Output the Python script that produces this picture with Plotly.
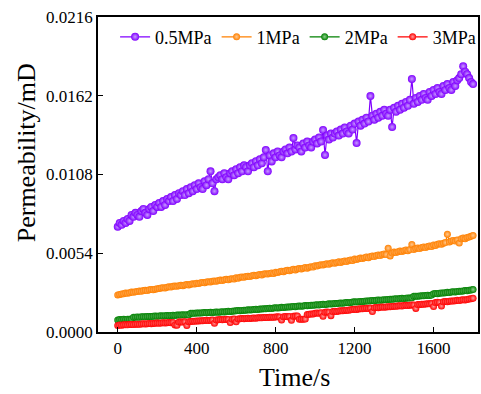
import plotly.graph_objects as go

time_s = list(range(0, 1810, 10))

p05 = [
    0.00722, 0.00748, 0.00735, 0.00762, 0.00748, 0.00775, 0.00762, 0.00803, 0.00790, 0.00817,
    0.00803, 0.00790, 0.00830, 0.00844, 0.00817, 0.00803, 0.00844, 0.00858, 0.00830, 0.00871,
    0.00858, 0.00885, 0.00858, 0.00898, 0.00871, 0.00912, 0.00898, 0.00925, 0.00898, 0.00939,
    0.00912, 0.00952, 0.00939, 0.00966, 0.00939, 0.00980, 0.00952, 0.00993, 0.00966, 0.01007,
    0.00980, 0.01020, 0.00993, 0.00980, 0.01034, 0.01007, 0.01048, 0.01102, 0.01020, 0.00966,
    0.01048, 0.01061, 0.01075, 0.01048, 0.01089, 0.01061, 0.01048, 0.01089, 0.01102, 0.01075,
    0.01116, 0.01089, 0.01130, 0.01102, 0.01143, 0.01130, 0.01102, 0.01143, 0.01157, 0.01130,
    0.01171, 0.01143, 0.01184, 0.01157, 0.01198, 0.01248, 0.01102, 0.01211, 0.01170, 0.01225,
    0.01198, 0.01238, 0.01211, 0.01198, 0.01238, 0.01252, 0.01225, 0.01265, 0.01238, 0.01330,
    0.01252, 0.01279, 0.01265, 0.01238, 0.01293, 0.01265, 0.01306, 0.01279, 0.01265, 0.01306,
    0.01320, 0.01293, 0.01334, 0.01306, 0.01385, 0.01214, 0.01347, 0.01320, 0.01361, 0.01334,
    0.01361, 0.01375, 0.01347, 0.01388, 0.01361, 0.01402, 0.01375, 0.01361, 0.01415, 0.01388,
    0.01429, 0.01296, 0.01443, 0.01415, 0.01456, 0.01429, 0.01470, 0.01443, 0.01618, 0.01483,
    0.01456, 0.01497, 0.01470, 0.01510, 0.01483, 0.01524, 0.01497, 0.01483, 0.01524, 0.01406,
    0.01538, 0.01510, 0.01551, 0.01524, 0.01565, 0.01538, 0.01578, 0.01551, 0.01592, 0.01735,
    0.01565, 0.01605, 0.01578, 0.01619, 0.01592, 0.01632, 0.01605, 0.01592, 0.01646, 0.01619,
    0.01660, 0.01632, 0.01673, 0.01646, 0.01632, 0.01687, 0.01660, 0.01700, 0.01673, 0.01660,
    0.01714, 0.01687, 0.01727, 0.01741, 0.01768, 0.01822, 0.01785, 0.01768, 0.01741, 0.01714,
    0.01700,
]

p1 = [
    0.00254, 0.00258, 0.00261, 0.00263, 0.00267, 0.00265, 0.00270, 0.00274, 0.00272, 0.00276,
    0.00278, 0.00281, 0.00279, 0.00284, 0.00286, 0.00284, 0.00289, 0.00292, 0.00290, 0.00294,
    0.00297, 0.00299, 0.00302, 0.00304, 0.00302, 0.00307, 0.00310, 0.00308, 0.00313, 0.00315,
    0.00313, 0.00318, 0.00320, 0.00318, 0.00323, 0.00325, 0.00323, 0.00328, 0.00331, 0.00329,
    0.00335, 0.00333, 0.00338, 0.00340, 0.00338, 0.00343, 0.00345, 0.00343, 0.00348, 0.00350,
    0.00348, 0.00353, 0.00356, 0.00353, 0.00358, 0.00361, 0.00358, 0.00363, 0.00366, 0.00364,
    0.00372, 0.00369, 0.00375, 0.00378, 0.00375, 0.00380, 0.00383, 0.00380, 0.00386, 0.00389,
    0.00386, 0.00391, 0.00394, 0.00391, 0.00397, 0.00400, 0.00397, 0.00402, 0.00405, 0.00402,
    0.00410, 0.00408, 0.00414, 0.00417, 0.00414, 0.00420, 0.00423, 0.00420, 0.00426, 0.00430,
    0.00426, 0.00432, 0.00435, 0.00432, 0.00438, 0.00442, 0.00438, 0.00444, 0.00448, 0.00445,
    0.00455, 0.00452, 0.00458, 0.00462, 0.00459, 0.00465, 0.00468, 0.00464, 0.00471, 0.00475,
    0.00471, 0.00477, 0.00481, 0.00477, 0.00483, 0.00487, 0.00483, 0.00490, 0.00494, 0.00491,
    0.00500, 0.00497, 0.00503, 0.00507, 0.00504, 0.00510, 0.00514, 0.00510, 0.00517, 0.00521,
    0.00517, 0.00524, 0.00528, 0.00524, 0.00531, 0.00535, 0.00531, 0.00575, 0.00522, 0.00542,
    0.00548, 0.00545, 0.00551, 0.00555, 0.00552, 0.00558, 0.00562, 0.00558, 0.00565, 0.00600,
    0.00565, 0.00572, 0.00576, 0.00572, 0.00579, 0.00583, 0.00579, 0.00586, 0.00590, 0.00587,
    0.00597, 0.00594, 0.00601, 0.00605, 0.00602, 0.00609, 0.00613, 0.00670, 0.00617, 0.00624,
    0.00628, 0.00624, 0.00631, 0.00610, 0.00640, 0.00644, 0.00640, 0.00648, 0.00652, 0.00656,
    0.00662,
]

p2 = [
    0.00082, 0.00085, 0.00084, 0.00087, 0.00086, 0.00088, 0.00087, 0.00089, 0.00101, 0.00102,
    0.00103, 0.00102, 0.00104, 0.00105, 0.00104, 0.00106, 0.00107, 0.00106, 0.00108, 0.00109,
    0.00108, 0.00110, 0.00111, 0.00110, 0.00112, 0.00113, 0.00112, 0.00114, 0.00115, 0.00114,
    0.00116, 0.00117, 0.00116, 0.00118, 0.00117, 0.00119, 0.00118, 0.00128, 0.00129, 0.00128,
    0.00130, 0.00131, 0.00130, 0.00132, 0.00133, 0.00132, 0.00134, 0.00135, 0.00134, 0.00136,
    0.00137, 0.00136, 0.00138, 0.00139, 0.00138, 0.00140, 0.00142, 0.00141, 0.00143, 0.00144,
    0.00145, 0.00147, 0.00146, 0.00148, 0.00149, 0.00150, 0.00152, 0.00151, 0.00153, 0.00154,
    0.00156, 0.00155, 0.00157, 0.00158, 0.00160, 0.00159, 0.00161, 0.00163, 0.00162, 0.00164,
    0.00166, 0.00165, 0.00167, 0.00169, 0.00168, 0.00170, 0.00172, 0.00171, 0.00173, 0.00175,
    0.00174, 0.00176, 0.00178, 0.00177, 0.00179, 0.00181, 0.00180, 0.00182, 0.00184, 0.00183,
    0.00185, 0.00187, 0.00186, 0.00188, 0.00190, 0.00189, 0.00191, 0.00193, 0.00192, 0.00194,
    0.00196, 0.00195, 0.00197, 0.00199, 0.00198, 0.00200, 0.00202, 0.00201, 0.00203, 0.00205,
    0.00207, 0.00206, 0.00208, 0.00210, 0.00209, 0.00211, 0.00213, 0.00212, 0.00214, 0.00216,
    0.00215, 0.00217, 0.00219, 0.00218, 0.00220, 0.00222, 0.00221, 0.00223, 0.00225, 0.00224,
    0.00226, 0.00228, 0.00227, 0.00229, 0.00231, 0.00230, 0.00232, 0.00234, 0.00233, 0.00235,
    0.00245, 0.00246, 0.00245, 0.00247, 0.00249, 0.00248, 0.00250, 0.00252, 0.00251, 0.00253,
    0.00262, 0.00264, 0.00263, 0.00266, 0.00268, 0.00267, 0.00270, 0.00272, 0.00271, 0.00274,
    0.00276, 0.00275, 0.00278, 0.00280, 0.00279, 0.00282, 0.00284, 0.00283, 0.00286, 0.00288,
    0.00291,
]

p3 = [
    0.00045, 0.00048, 0.00047, 0.00049, 0.00050, 0.00049, 0.00051, 0.00052, 0.00051, 0.00053,
    0.00054, 0.00053, 0.00055, 0.00056, 0.00055, 0.00057, 0.00058, 0.00057, 0.00059, 0.00060,
    0.00061, 0.00060, 0.00062, 0.00063, 0.00062, 0.00064, 0.00065, 0.00064, 0.00066, 0.00048,
    0.00047, 0.00068, 0.00069, 0.00068, 0.00070, 0.00045, 0.00071, 0.00072, 0.00074, 0.00073,
    0.00075, 0.00076, 0.00078, 0.00077, 0.00079, 0.00080, 0.00079, 0.00081, 0.00082, 0.00060,
    0.00083, 0.00084, 0.00085, 0.00084, 0.00086, 0.00087, 0.00086, 0.00065, 0.00088, 0.00089,
    0.00070, 0.00090, 0.00091, 0.00092, 0.00091, 0.00093, 0.00094, 0.00093, 0.00095, 0.00096,
    0.00095, 0.00097, 0.00098, 0.00097, 0.00099, 0.00100, 0.00099, 0.00101, 0.00102, 0.00101,
    0.00103, 0.00104, 0.00103, 0.00082, 0.00105, 0.00106, 0.00105, 0.00107, 0.00080, 0.00108,
    0.00109, 0.00110, 0.00088, 0.00087, 0.00088, 0.00089, 0.00120, 0.00122, 0.00123, 0.00124,
    0.00128, 0.00130, 0.00129, 0.00132, 0.00108, 0.00135, 0.00137, 0.00136, 0.00112, 0.00140,
    0.00142, 0.00141, 0.00144, 0.00146, 0.00145, 0.00148, 0.00150, 0.00149, 0.00152, 0.00154,
    0.00156, 0.00155, 0.00158, 0.00160, 0.00159, 0.00161, 0.00163, 0.00162, 0.00164, 0.00140,
    0.00166, 0.00168, 0.00167, 0.00169, 0.00171, 0.00170, 0.00172, 0.00174, 0.00173, 0.00175,
    0.00177, 0.00176, 0.00178, 0.00180, 0.00179, 0.00181, 0.00183, 0.00182, 0.00184, 0.00186,
    0.00185, 0.00162, 0.00188, 0.00189, 0.00191, 0.00190, 0.00192, 0.00194, 0.00193, 0.00195,
    0.00175, 0.00202, 0.00204, 0.00203, 0.00178, 0.00207, 0.00209, 0.00208, 0.00211, 0.00213,
    0.00212, 0.00215, 0.00217, 0.00216, 0.00219, 0.00221, 0.00220, 0.00223, 0.00226, 0.00228,
    0.00232,
]

series_names = ["0.5MPa", "1MPa", "2MPa", "3MPa"]
series_values = [p05, p1, p2, p3]
series_colors = ["#8000ff", "#ff8000", "#008000", "#ff0000"]
highlight_colors = ["#c89cff", "#ffc890", "#8fd08f", "#ff9c9c"]
marker_sizes = [8, 7, 7, 7]

y_ticks = [0.0, 0.0054, 0.0108, 0.0162, 0.0216]
y_tick_labels = ["0.0000", "0.0054", "0.0108", "0.0162", "0.0216"]
x_ticks = [0, 400, 800, 1200, 1600]

fig = go.Figure()
for name, vals, col, hl, ms in zip(series_names, series_values, series_colors,
                                   highlight_colors, marker_sizes):
    fig.add_trace(go.Scatter(
        x=time_s, y=vals, name=name, mode="lines+markers",
        line=dict(color=col, width=1.2),
        marker=dict(size=ms, color=col, symbol="circle",
                    line=dict(width=0),
                    gradient=dict(type="radial", color=hl)),
    ))

font_family = "Liberation Serif"
fig.update_layout(
    width=481, height=394,
    margin=dict(l=98, r=3, t=17, b=62, autoexpand=False),
    paper_bgcolor="white", plot_bgcolor="white",
    font=dict(family=font_family, size=17, color="black"),
    showlegend=True,
    legend=dict(orientation="h", x=0.045, y=0.995, xanchor="left", yanchor="top",
                bgcolor="rgba(0,0,0,0)", font=dict(family=font_family, size=18),
                tracegroupgap=0),
    annotations=[
        dict(text="Time/s", x=0.517, y=-0.146, xref="paper", yref="paper",
             xanchor="center", yanchor="middle", showarrow=False,
             font=dict(family=font_family, size=26)),
        dict(text="Permeability/mD", x=-0.189, y=0.568, xref="paper", yref="paper",
             xanchor="center", yanchor="middle", showarrow=False, textangle=-90,
             font=dict(family=font_family, size=26)),
    ],
)
fig.update_xaxes(
    range=[-100, 1825], tickvals=x_ticks, automargin=False,
    ticks="inside", ticklen=5, tickwidth=1.2, tickcolor="black",
    showline=True, linecolor="black", linewidth=1.5, mirror=True,
    showgrid=False, zeroline=False,
    tickfont=dict(family=font_family, size=17, color="black"),
)
fig.update_yaxes(
    range=[0, 0.0216], tickvals=y_ticks, ticktext=y_tick_labels, automargin=False,
    ticks="inside", ticklen=5, tickwidth=1.2, tickcolor="black",
    showline=True, linecolor="black", linewidth=1.5, mirror=True,
    showgrid=False, zeroline=False,
    tickfont=dict(family=font_family, size=17, color="black"),
)

fig.write_html("out.html", config={"displayModeBar": False},
               post_script="document.body.style.margin='0';")
